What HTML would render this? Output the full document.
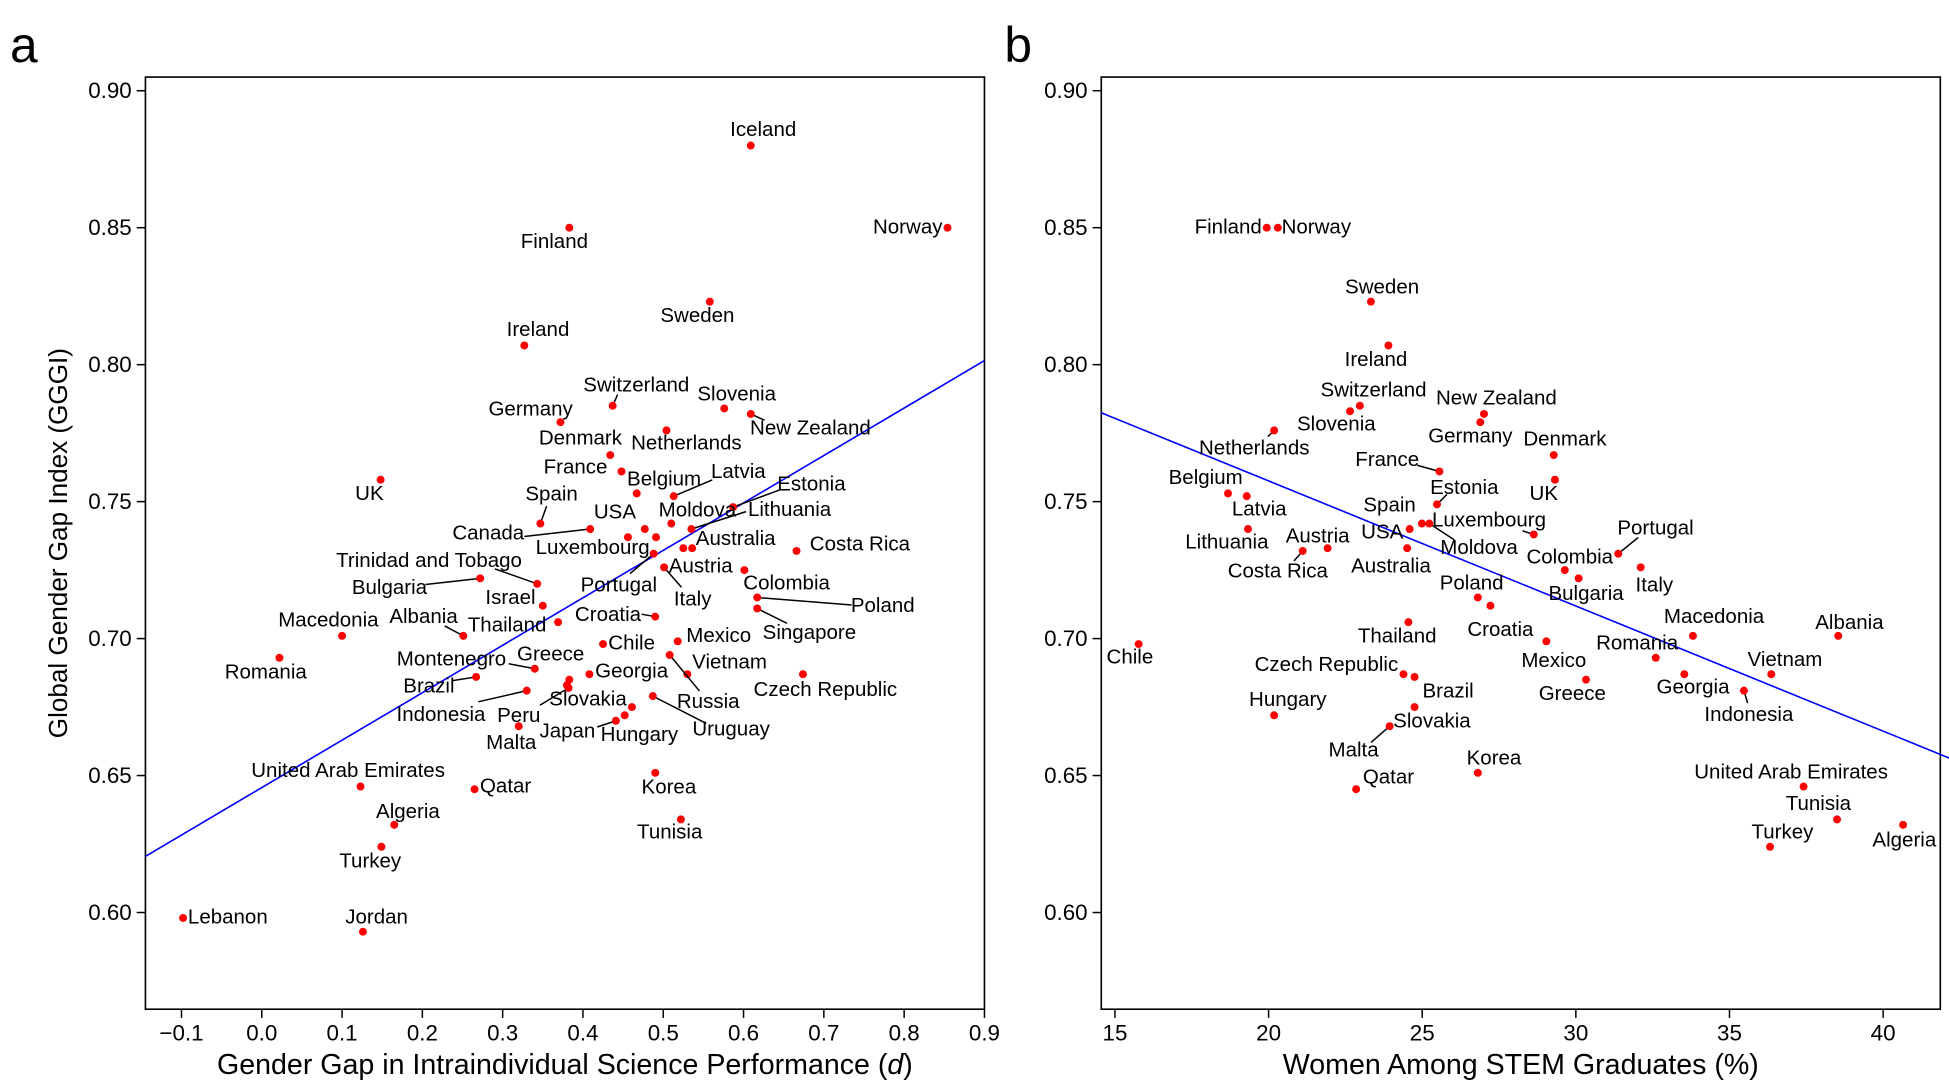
<!DOCTYPE html>
<html><head><meta charset="utf-8"><style>
html,body{margin:0;padding:0;background:#fff;}
svg{display:block;}
text{font-family:"Liberation Sans Narrow","Liberation Sans",sans-serif;fill:#000;}
</style></head><body>
<svg id="chart" xmlns="http://www.w3.org/2000/svg" width="1949" height="1090" viewBox="0 0 1568 877" preserveAspectRatio="none"></svg>
<script>
// ---- Panel a data ----
const aNames = ["Iceland","Finland","Norway","Sweden","Ireland","Switzerland","Slovenia","New Zealand","Germany","Netherlands","Denmark","France","UK","Belgium","Latvia","Estonia","Spain","Moldova","Canada","USA","Lithuania","Luxembourg","Australia","Austria","Costa Rica","Portugal","Italy","Colombia","Bulgaria","Trinidad and Tobago","Poland","Israel","Singapore","Croatia","Thailand","Macedonia","Albania","Mexico","Chile","Montenegro","Vietnam","Russia","Romania","Czech Republic","Georgia","Greece","Brazil","Slovakia","Peru","Indonesia","Uruguay","Hungary","Japan","Malta","Korea","United Arab Emirates","Qatar","Tunisia","Algeria","Turkey","Lebanon","Jordan"];
const aX = [0.609,0.383,0.854,0.558,0.327,0.437,0.576,0.609,0.372,0.504,0.434,0.448,0.148,0.467,0.513,0.587,0.347,0.510,0.409,0.477,0.535,0.491,0.536,0.525,0.666,0.488,0.501,0.601,0.272,0.343,0.617,0.350,0.617,0.490,0.369,0.100,0.251,0.518,0.425,0.340,0.530,0.508,0.022,0.674,0.408,0.383,0.267,0.380,0.382,0.330,0.487,0.461,0.441,0.320,0.490,0.123,0.265,0.522,0.165,0.149,-0.098,0.126];
const aY = [0.880,0.850,0.850,0.823,0.807,0.785,0.784,0.782,0.779,0.776,0.767,0.761,0.758,0.753,0.752,0.748,0.742,0.742,0.740,0.740,0.740,0.737,0.733,0.733,0.732,0.731,0.726,0.725,0.722,0.720,0.715,0.712,0.711,0.708,0.706,0.701,0.701,0.699,0.698,0.689,0.687,0.694,0.693,0.687,0.687,0.685,0.686,0.683,0.682,0.681,0.679,0.675,0.670,0.668,0.651,0.646,0.645,0.634,0.632,0.624,0.598,0.593];
const aExtraX = [0.456,0.452];
const aExtraY = [0.737,0.672];
const aXTicks = [-0.1,0.0,0.1,0.2,0.3,0.4,0.5,0.6,0.7,0.8,0.9];
const aXTickLabels = ["\u22120.1","0.0","0.1","0.2","0.3","0.4","0.5","0.6","0.7","0.8","0.9"];
const yTicks = [0.60,0.65,0.70,0.75,0.80,0.85,0.90];
const yTickLabels = ["0.60","0.65","0.70","0.75","0.80","0.85","0.90"];
const aFit = [0.6456,0.1732];
// label offsets (layout): [dx,dy,leaderDx,leaderDy]
const aLab = [[10,-13],[-12,11],[-32,-1],[-10,11],[11,-13],[19,-17,4,-9],[10,-12],[48,11,11,5],[-24,-11],[16,10],[-24,-14],[-37,-4],[-9,11],[22,-12],[52,-20,31,-13],[63,-19,38,-14],[9,-24,5,-14],[21,-11],[-82,3,-53,6],[-24,-14],[79,-16,44,-14],[-51,8],[35,-8],[14,14],[51,-6],[-28,25,-19,16],[23,25,14,16],[34,10],[-73,7,-44,5],[-87,-19,-34,-12],[101,6,76,6],[-26,-7],[42,19,24,12],[-38,-2,-11,-2],[-41,2],[-11,-13],[-32,-16,-15,-8],[33,-5],[23,-1],[-67,-8,-21,-4],[34,-10],[31,37,24,29],[-11,11],[18,12],[34,-3],[-15,-21],[-38,7,-19,3],[17,11],[-40,22,-23,14],[-69,19,-39,9],[63,26,43,22],[6,22],[-39,8,-15,5],[-6,13],[11,11],[-10,-13],[25,-3],[-9,10],[11,-11],[-9,11],[36,-1],[11,-12]];

// ---- Panel b data ----
const bNames = ["Finland","Norway","Sweden","Ireland","Switzerland","Slovenia","New Zealand","Germany","Netherlands","Denmark","France","UK","Belgium","Latvia","Estonia","Spain","Luxembourg","USA","Moldova","Lithuania","Austria","Costa Rica","Australia","Portugal","Colombia","Italy","Bulgaria","Poland","Croatia","Thailand","Macedonia","Albania","Chile","Mexico","Romania","Vietnam","Czech Republic","Georgia","Greece","Indonesia","Brazil","Slovakia","Malta","Hungary","Korea","Qatar","United Arab Emirates","Tunisia","Algeria","Turkey"];
const bX = [19.94,20.30,23.33,23.90,22.97,22.65,27.01,26.89,20.18,29.28,25.56,29.32,18.68,19.29,25.48,24.99,28.63,24.59,25.23,19.33,21.92,21.11,24.51,31.38,29.64,32.11,30.09,26.81,27.22,24.55,33.81,38.54,15.77,29.04,32.60,36.36,24.39,33.53,30.33,35.47,24.75,24.75,23.94,20.18,26.81,22.85,37.41,38.50,40.65,36.32];
const bY = [0.850,0.850,0.823,0.807,0.785,0.783,0.782,0.779,0.776,0.767,0.761,0.758,0.753,0.752,0.749,0.742,0.738,0.740,0.742,0.740,0.733,0.732,0.733,0.731,0.725,0.726,0.722,0.715,0.712,0.706,0.701,0.701,0.698,0.699,0.693,0.687,0.687,0.687,0.685,0.681,0.686,0.675,0.668,0.672,0.651,0.645,0.646,0.634,0.632,0.624];
const bXTicks = [15,20,25,30,35,40];
const bXTickLabels = ["15","20","25","30","35","40"];
const bFit = [0.8489,-0.004567];
const bLab = [[-31,-1],[31,-1],[9,-12],[-10,11],[11,-13],[-11,10],[10,-13],[-8,11],[-16,14,-5,5],[9,-13],[-42,-10,-18,-5],[-9,11],[-18,-13],[10,10],[22,-14,8,-8],[-26,-15],[-36,-12,-9,-3],[-22,2],[40,19,20,13],[-17,10],[-8,-10],[-20,16,-7,8],[-13,14],[30,-21,16,-13],[4,-11],[11,14],[6,12],[-5,-12],[8,19],[-9,11],[17,-16],[9,-11],[-7,10],[6,15],[-15,-12],[11,-12],[-62,-8],[7,10],[-11,11],[4,19,3,10],[27,11],[14,11],[-29,19,-15,13],[11,-13],[13,-12],[26,-10],[-10,-12],[-15,-13],[1,12],[10,-12]];

const NS = "http://www.w3.org/2000/svg";
const svg = document.getElementById('chart');
function el(tag, attrs, parent){const e=document.createElementNS(NS,tag);for(const k in attrs)e.setAttribute(k,attrs[k]);(parent||svg).appendChild(e);return e;}

const Y0 = 73, YPU = 2204;
const yS = v => Y0 + (0.90 - v) * YPU;
const plotTop = 62, plotBottom = 812;

function panel(opts){
  const g = el('g',{});
  
  
  const L=opts.left, R=opts.right, xS=opts.xS;
  const frame = el('rect',{x:L,y:plotTop,width:R-L,height:plotBottom-plotTop,fill:'none',stroke:'#000','stroke-width':1.3},g);
  
  
  yTicks.forEach((t,i)=>{
    const y=yS(t);
    const tk=el('line',{x1:L-7,x2:L,y1:y,y2:y,stroke:'#000','stroke-width':1.2},g);
    
    
    const tx=el('text',{x:L-11,y:y+6,'text-anchor':'end','font-size':18},g);
    tx.textContent=yTickLabels[i];
    
    
  });
  opts.xt.forEach((t,i)=>{
    const x=xS(t);
    const tk=el('line',{x1:x,x2:x,y1:plotBottom,y2:plotBottom+7,stroke:'#000','stroke-width':1.2},g);
    
    
    const tx=el('text',{x:x,y:plotBottom+25,'text-anchor':'middle','font-size':18},g);
    tx.textContent=opts.xtl[i];
    
    
  });
  const x0=opts.x0, x1=opts.x1;
  const fl=el('line',{x1:xS(x0),y1:yS(opts.fit[0]+opts.fit[1]*x0),x2:xS(x1),y2:yS(opts.fit[0]+opts.fit[1]*x1),stroke:'#0000ff','stroke-width':1.3},g);
  
  
  opts.names.forEach((n,i)=>{
    const px=xS(opts.xs[i]), py=yS(opts.ys[i]);
    const lb=opts.lab[i];
    if(lb.length>2){
      const ln=el('line',{x1:px,y1:py,x2:px+lb[2],y2:py+lb[3],stroke:'#000','stroke-width':1.2},g);
      
      
    }
    const c=el('circle',{cx:px,cy:py,r:3.2,fill:'#ff0000'},g);
    
    
    const tx=el('text',{x:px+lb[0],y:py+lb[1]+5.5,'text-anchor':'middle','font-size':16.5},g);
    tx.textContent=n;
    
    
  });
  (opts.ex||[]).forEach((v,i)=>{
    const c=el('circle',{cx:xS(v),cy:yS(opts.ey[i]),r:3.2,fill:'#ff0000'},g);
    
    
  });
  const xt=el('text',{x:(L+R)/2,y:864,'text-anchor':'middle','font-size':23},g);
  
  
  xt.appendChild(document.createTextNode(opts.xtitle));
  if(opts.xtitleItalic){
    const ts=el('tspan',{'font-style':'italic'},xt);
    ts.textContent=opts.xtitleItalic;
    xt.appendChild(document.createTextNode(')'));
  }
  const pl=el('text',{x:opts.letterX,y:50,'font-size':40,'font-family':'Liberation Sans, sans-serif'},g);
  pl.textContent=opts.letter;
  
  
}

panel({name:'panel-a',left:117,right:792,xS:v=>146+(v+0.1)*646,xt:aXTicks,xtl:aXTickLabels,fit:aFit,x0:-0.145,x1:0.9,
  names:aNames,xs:aX,ys:aY,lab:aLab,ex:aExtraX,ey:aExtraY,
  xtitle:'Gender Gap in Intraindividual Science Performance (',xtitleItalic:'d',letter:'a',letterX:8});
panel({name:'panel-b',left:886,right:1561,xS:v=>897+(v-15)*24.72,xt:bXTicks,xtl:bXTickLabels,fit:bFit,x0:14.55,x1:42.86,
  names:bNames,xs:bX,ys:bY,lab:bLab,
  xtitle:'Women Among STEM Graduates (%)',letter:'b',letterX:808});

const yt=el('text',{x:0,y:0,'text-anchor':'middle','font-size':21,'font-family':'Liberation Sans, sans-serif',transform:'translate(54,437) rotate(-90)'});
yt.textContent='Global Gender Gap Index (GGGI)';


</script>
</body></html>
